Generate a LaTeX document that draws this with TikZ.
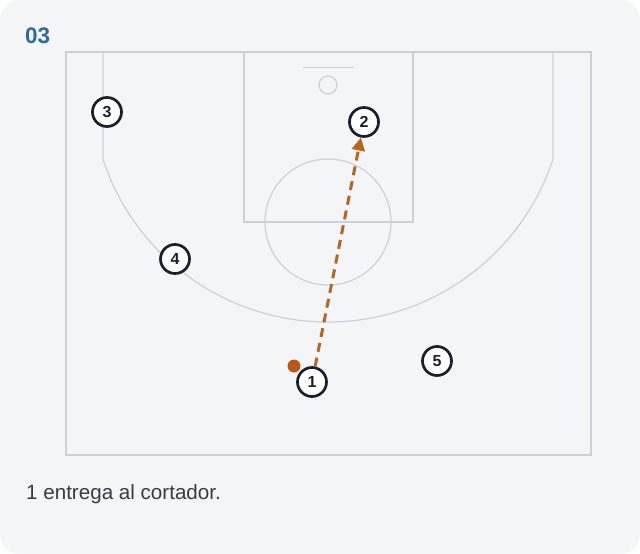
\documentclass[tikz,border=0pt]{standalone}
\usepackage{fontspec}
\setmainfont{Liberation Sans}
\usetikzlibrary{arrows.meta}
\definecolor{cardbg}{HTML}{F3F5F7}
\definecolor{courtline}{HTML}{C9D1D9}
\definecolor{navy}{HTML}{18202E}
\definecolor{passc}{HTML}{B8651E}
\definecolor{ballc}{HTML}{B85A12}
\definecolor{titlec}{HTML}{2B6C9E}
\definecolor{textc}{HTML}{353C47}
\tikzset{
  court/.style={draw=courtline, line width=1.2pt},
  player/.style={circle, draw=navy, line width=2.7pt, fill=white, minimum size=29pt, inner sep=0pt, font=\bfseries\fontsize{16}{16}\selectfont, text=navy},
  pass/.style={draw=passc, line width=3pt, dash pattern=on 9pt off 6pt, -{Triangle[length=13pt,width=13pt]}},
}
\begin{document}
\begin{tikzpicture}[x=1pt,y=-1pt]
\useasboundingbox (0,0) rectangle (640,554);
\fill[white] (0,0) rectangle (640,554);
\fill[cardbg, rounded corners=20pt] (0,0) rectangle (640,554);
% court
\draw[court] (66,52) rectangle (591,455);
\draw[court] (244,52) rectangle (413,222);
\draw[court] (303,67.5) -- (354,67.5);
\draw[court] (328,85) circle[radius=9pt];
\draw[court] (328,222) circle[radius=63pt];
\draw[court] (103,52) -- (103,159.5) arc[start angle=198.33, end angle=341.67, radius=237pt] -- (553,52);
% title and caption
\node[anchor=west, inner sep=0pt, text=titlec, font=\bfseries\fontsize{22.5}{22.5}\selectfont] (title) at (25,36) {03};
\node[anchor=west, inner sep=0pt, text=textc, font=\fontsize{20.6}{20.6}\selectfont] (caption) at (26,494) {1 entrega al cortador.};
% players
\node[player] (p3) at (107,112) {3};
\node[player] (p2) at (364,122) {2};
\node[player] (p4) at (175,259) {4};
\node[player] (p5) at (437,361) {5};
\node[player] (p1) at (312,382) {1};
\fill[ballc] (294,366) circle[radius=6.5pt];
\draw[pass] (p1) -- (p2);
\end{tikzpicture}
\end{document}
